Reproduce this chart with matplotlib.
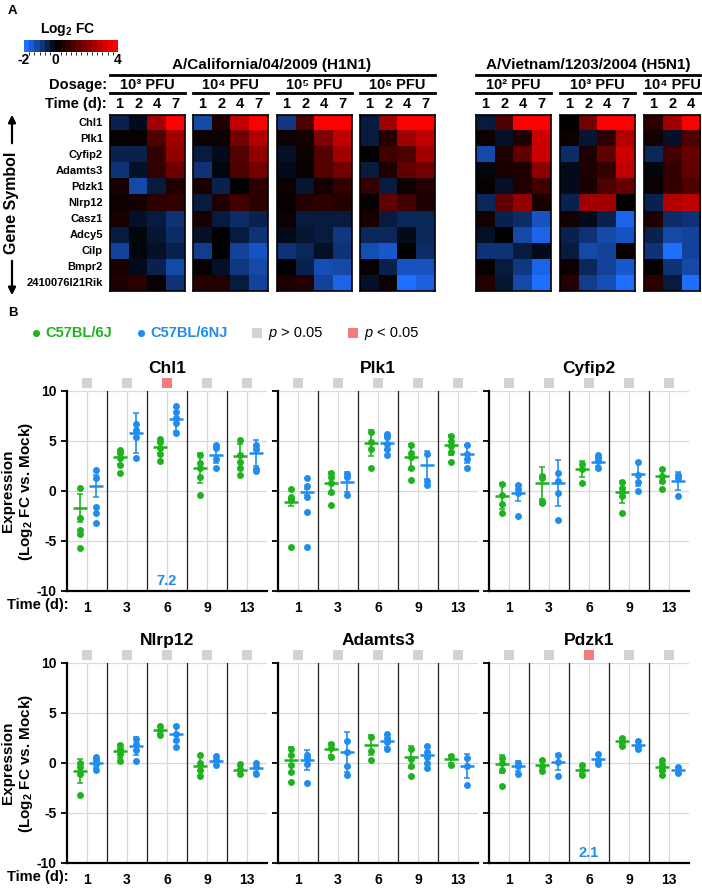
import numpy as np
import matplotlib
matplotlib.use('Agg')
import matplotlib.pyplot as plt
from matplotlib.colors import LinearSegmentedColormap, BoundaryNorm
from matplotlib.cm import ScalarMappable

plt.rcParams['font.family'] = ['Liberation Sans', 'DejaVu Sans']
plt.rcParams['font.weight'] = 'bold'
plt.rcParams['axes.unicode_minus'] = False
plt.rcParams['mathtext.fontset'] = 'custom'
plt.rcParams['mathtext.rm'] = 'Liberation Sans:bold'
plt.rcParams['mathtext.it'] = 'Liberation Sans:italic:bold'
plt.rcParams['mathtext.bf'] = 'Liberation Sans:bold'

# ---- panel A data (log2 FC heatmaps) ----
genes = ['Chl1', 'Plk1', 'Cyfip2', 'Adamts3', 'Pdzk1', 'Nlrp12',
         'Casz1', 'Adcy5', 'Cilp', 'Bmpr2', '2410076I21Rik']

cal_1e3 = [[-0.6, -0.2, 2.5, 4.0], [0.1, 0.1, 1.2, 2.5], [-0.6, -0.6, 0.8, 2.3],
           [-0.9, -0.3, 0.8, 1.7], [0.4, -1.3, -0.5, 0.5], [0.2, 0.3, 0.7, 0.8],
           [0.4, -0.3, -0.5, -0.9], [-0.5, -0.1, -0.4, -0.8], [-1.2, -0.1, -0.3, -0.6],
           [0.4, -0.2, -0.6, -1.3], [0.5, 0.7, 0.1, -0.9]]
cal_1e4 = [[-1.3, 0.5, 3.0, 4.0], [0.2, 0.2, 1.8, 2.8], [-0.5, -0.2, 1.3, 2.3],
           [-0.9, -0.1, 1.2, 1.8], [0.4, -0.6, 0.0, 0.7], [-0.5, 0.5, 1.0, 0.7],
           [0.4, -0.5, -0.8, -0.6], [-0.3, 0.0, -0.5, -0.9], [-1.1, 0.0, -1.2, -1.5],
           [0.1, -0.3, -1.0, -1.3], [0.6, 0.6, -0.5, -1.2]]
cal_1e5 = [[-1.0, 1.2, 4.0, 4.0], [0.2, 0.3, 2.0, 3.0], [-0.3, 0.2, 1.3, 2.5],
           [-0.2, 0.1, 1.3, 1.8], [0.2, -0.4, 0.3, 0.8], [0.1, 0.6, 0.7, 0.6],
           [0.2, -0.5, -0.5, -0.5], [-0.2, -0.4, -0.5, -1.0], [-0.9, -0.7, -0.3, -0.9],
           [0.0, -0.6, -1.4, -1.3], [0.5, 0.6, -1.2, -1.8]]
cal_1e6 = [[-0.5, 2.5, 4.0, 4.0], [-0.5, 0.6, 2.5, 3.0], [0.0, 1.0, 1.2, 2.5],
           [-0.5, 0.5, 1.5, 1.8], [0.8, -0.5, 0.2, 0.6], [0.1, 1.5, 1.0, 0.5],
           [0.4, -0.5, -0.7, -0.7], [-0.7, -0.7, -0.2, -0.7], [-1.4, -1.6, 0.0, -0.8],
           [0.1, -0.6, -1.5, -1.5], [-0.3, 0.2, -2.0, -1.7]]
vn_1e2 = [[-0.5, 1.2, 4.0, 4.0], [0.2, -0.3, 0.5, 3.2], [-1.3, 0.5, 1.5, 3.2],
          [-0.1, 0.4, 0.5, 2.2], [0.1, -0.3, 0.5, 1.0], [-0.7, 1.5, 2.3, 0.4],
          [0.3, -0.6, -0.8, -1.5], [-0.3, 0.0, -1.3, -1.8], [-0.9, -0.9, -0.5, -0.2],
          [0.1, -0.5, -1.0, -1.8], [0.6, -0.4, -1.3, -2.0]]
vn_1e3 = [[0.0, 1.8, 4.0, 4.0], [0.2, -0.4, 0.7, 2.8], [-0.8, 0.5, 1.5, 3.2],
          [-0.2, 0.5, 0.8, 3.0], [-0.2, 0.4, 1.2, 1.6], [-0.6, 2.5, 2.5, 0.0],
          [0.3, -0.2, -0.6, -1.8], [-0.6, -0.9, -1.3, -1.5], [-0.5, -1.3, -1.2, 0.1],
          [0.2, -0.7, -1.2, -1.6], [0.6, -1.1, -1.4, -2.0]]
vn_1e4 = [[0.7, 2.5, 4.0], [0.3, -0.3, 1.2], [-0.7, 1.0, 1.6],
          [-0.1, 0.8, 1.5], [0.2, 0.8, 1.2], [-0.6, 2.8, 3.0],
          [0.5, -0.8, -0.9], [-0.6, -1.3, -1.2], [-0.9, -2.0, -1.2],
          [0.1, -0.9, -1.3], [0.7, -0.5, -2.0]]

cal_doses = ['10³ PFU', '10⁴ PFU', '10⁵ PFU', '10⁶ PFU']
vn_doses = ['10² PFU', '10³ PFU', '10⁴ PFU']
hm_times = ['1', '2', '4', '7']

# ---- panel B data (qPCR, log2 FC vs mock) ----
days = ['1', '3', '6', '9', '13']

chl1_j = [[0.3, -2.7, -3.9, -4.3, -5.7], [4.1, 3.8, 3.3, 2.6, 1.8], [5.2, 4.9, 4.3, 3.7, 3.0],
          [3.6, 2.8, 2.3, 1.4, -0.4], [5.1, 3.6, 2.9, 2.3, 1.6]]
chl1_nj = [[2.1, 1.3, -1.6, -2.2, -3.2], [6.7, 6.1, 5.4, 3.3], [8.5, 7.9, 7.3, 6.8, 5.8],
           [4.6, 4.3, 3.2, 2.3], [4.6, 4.2, 2.2, 2.0]]
chl1_j_mean = [-1.7, 3.4, 4.4, 2.3, 3.5]
chl1_j_sd = [1.4, 0.7, 0.6, 1.5, 1.2]
chl1_nj_mean = [0.5, 5.8, 7.2, 3.6, 3.8]
chl1_nj_sd = [1.1, 2.0, 1.2, 0.8, 1.3]

plk1_j = [[0.2, -0.6, -0.8, -0.9, -5.6], [1.8, 1.4, 0.8, -0.1, -1.4], [5.9, 4.9, 4.2, 2.3],
          [4.6, 3.8, 3.4, 2.3, 1.1], [5.5, 5.0, 4.5, 3.9, 2.9]]
plk1_nj = [[1.3, 0.5, -0.6, -2.1, -5.6], [1.7, 1.4, -0.4], [5.7, 5.4, 4.7, 4.2, 3.6],
           [3.7, 1.0, 0.6], [4.6, 3.7, 3.2, 2.3]]
plk1_j_mean = [-1.1, 0.8, 4.8, 3.4, 4.6]
plk1_j_sd = [0.4, 1.1, 1.3, 1.3, 1.0]
plk1_nj_mean = [-0.1, 0.9, 4.8, 2.6, 3.7]
plk1_nj_sd = [0.3, 1.0, 0.7, 1.4, 0.9]

cyfip2_j = [[0.7, -0.4, -1.3, -2.2], [1.5, 1.3, -1.0, -1.2], [2.7, 2.2, 0.8],
            [0.9, 0.3, -0.1, -0.5, -2.2], [2.2, 1.5, 1.0, 0.2]]
cyfip2_nj = [[0.6, 0.2, -0.2, -2.5], [1.8, 1.0, -0.2, -2.9], [3.6, 3.3, 3.0, 2.3],
             [2.9, 1.6, 0.9, 0.0], [1.6, 1.3, -0.5]]
cyfip2_j_mean = [-0.5, 0.8, 2.2, -0.1, 1.5]
cyfip2_j_sd = [1.3, 1.6, 0.8, 1.1, 0.7]
cyfip2_nj_mean = [-0.2, 0.8, 2.9, 1.7, 1.0]
cyfip2_nj_sd = [0.8, 2.3, 0.4, 1.2, 0.9]

nlrp12_j = [[0.0, -0.4, -1.1, -3.2], [1.8, 1.4, 0.9, 0.2], [3.7, 3.3, 2.8],
            [0.8, 0.0, -0.7, -1.3], [-0.1, -0.6, -1.1]]
nlrp12_nj = [[0.6, 0.3, -0.1, -0.7], [2.4, 1.9, 1.3, 0.2], [3.7, 2.9, 2.3, 1.6],
             [0.7, 0.3, -0.2], [0.0, -0.4, -1.1]]
nlrp12_j_mean = [-0.8, 1.2, 3.3, -0.3, -0.7]
nlrp12_j_sd = [1.2, 0.7, 0.4, 1.0, 0.4]
nlrp12_nj_mean = [0.0, 1.7, 2.9, 0.2, -0.5]
nlrp12_nj_sd = [0.5, 0.9, 0.8, 0.4, 0.4]

adamts3_j = [[1.4, 0.8, -0.2, -0.9, -1.9], [1.9, 1.5, 0.6], [2.6, 1.2, 0.3],
             [1.4, 0.4, -0.3, -1.3], [0.7, -0.2]]
adamts3_nj = [[0.8, 0.5, -0.1, -2.0], [2.2, 1.1, -0.3, -1.2], [2.9, 2.5, 2.1, 1.4],
              [1.7, 1.1, 0.6, 0.0, -0.5], [0.5, -0.3, -2.2]]
adamts3_j_mean = [0.3, 1.4, 1.8, 0.6, 0.4]
adamts3_j_sd = [1.3, 0.6, 1.0, 1.1, 0.4]
adamts3_nj_mean = [0.3, 1.1, 2.2, 0.8, -0.3]
adamts3_nj_sd = [1.0, 2.0, 0.6, 0.9, 1.2]

pdzk1_j = [[0.5, 0.0, -0.7, -2.3], [0.3, -0.3, -0.8], [-0.2, -0.7, -1.2],
           [2.5, 2.1, 1.7], [0.3, -0.2, -0.7, -1.2]]
pdzk1_nj = [[0.0, -0.3, -1.1], [0.8, 0.1, -1.3], [0.9, 0.3, -0.1],
            [2.2, 1.7, 1.4], [-0.4, -1.0]]
pdzk1_j_mean = [-0.1, -0.2, -0.7, 2.2, -0.4]
pdzk1_j_sd = [0.9, 0.5, 0.4, 0.3, 0.5]
pdzk1_nj_mean = [-0.3, 0.1, 0.4, 1.8, -0.7]
pdzk1_nj_sd = [0.5, 0.8, 0.4, 0.3, 0.3]

chl1_sig = [0, 0, 1, 0, 0]
pdzk1_sig = [0, 0, 1, 0, 0]
no_sig = [0, 0, 0, 0, 0]

GREEN = '#1db31d'
BLUE = '#1e8cf0'
GRID = '#d9d9d9'

W, H = 702, 889
fig = plt.figure(figsize=(W / 100, H / 100), dpi=100)


def box(x0, y0, x1, y1):
    # axes from pixel box (top-left origin)
    return fig.add_axes([x0 / W, 1 - y1 / H, (x1 - x0) / W, (y1 - y0) / H])


ov = box(0, 0, W, H)
ov.set_xlim(0, W)
ov.set_ylim(H, 0)
ov.axis('off')
ov.set_zorder(10)
ov.patch.set_visible(False)

# ================= panel A =================
cmap = LinearSegmentedColormap.from_list('fc', [(0, '#1f6fff'), (1 / 3, '#000000'), (1, '#ff0000')])
cell_w = 18.75
hm_top, hm_bot = 115, 291

cal_blocks = [cal_1e3, cal_1e4, cal_1e5, cal_1e6]
cal_x = [110, 193, 277, 360]
vn_blocks = [vn_1e2, vn_1e3, vn_1e4]
vn_x = [476, 560, 644]

for blocks, xs, doses in [(cal_blocks, cal_x, cal_doses), (vn_blocks, vn_x, vn_doses)]:
    for data, x0, dose in zip(blocks, xs, doses):
        arr = np.array(data)
        ncol = arr.shape[1]
        x1 = x0 + cell_w * ncol
        ax = box(x0, hm_top, x1, hm_bot)
        ax.imshow(arr, cmap=cmap, vmin=-2, vmax=4, aspect='auto', interpolation='nearest')
        ax.set_xticks([])
        ax.set_yticks([])
        for s in ax.spines.values():
            s.set_linewidth(1.2)
        ov.text((x0 + x1) / 2, 85, dose, ha='center', va='center', fontsize=10.5)
        ov.plot([x0, x1], [93, 93], color='k', lw=2)
        for j in range(ncol):
            ov.text(x0 + cell_w * (j + 0.5), 104, hm_times[j], ha='center', va='center', fontsize=10.5)

ov.text(272, 65, 'A/California/04/2009 (H1N1)', ha='center', va='center', fontsize=11)
ov.plot([110, 435], [75, 75], color='k', lw=2)
ov.text(588, 65, 'A/Vietnam/1203/2004 (H5N1)', ha='center', va='center', fontsize=11)
ov.plot([476, 700], [75, 75], color='k', lw=2)
ov.text(107, 85, 'Dosage:', ha='right', va='center', fontsize=10.5)
ov.text(107, 104, 'Time (d):', ha='right', va='center', fontsize=10.5)

row_h = (hm_bot - hm_top) / len(genes)
for i, g in enumerate(genes):
    ov.text(103, hm_top + row_h * (i + 0.5), g, ha='right', va='center', fontsize=8)

ov.text(12, 203, 'Gene Symbol', rotation=90, ha='center', va='center', fontsize=11.5)
ov.annotate('', xy=(12, 112), xytext=(12, 146),
            arrowprops=dict(arrowstyle='-|>', color='k', lw=1.6, mutation_scale=11))
ov.annotate('', xy=(12, 298), xytext=(12, 258),
            arrowprops=dict(arrowstyle='-|>', color='k', lw=1.6, mutation_scale=11))

# colour key
cax = box(24, 40, 118, 52)
bounds = np.linspace(-2, 4, 19)
norm = BoundaryNorm(bounds, cmap.N)
cb = fig.colorbar(ScalarMappable(norm=norm, cmap=cmap), cax=cax, orientation='horizontal',
                  ticks=[-2, 0, 4])
cb.outline.set_visible(False)
cb.ax.tick_params(length=0, pad=1, labelsize=10)
cb.ax.set_xticklabels(['-2', '0', '4'], fontweight='bold')
ov.text(68, 29, 'Log$_2$ FC', ha='center', va='center', fontsize=10)

ov.text(8, 11, 'A', ha='left', va='center', fontsize=9.5)
ov.text(8, 313, 'B', ha='left', va='center', fontsize=9.5)

# ================= panel B =================
ov.scatter([36], [333], s=26, color=GREEN, linewidths=0)
ov.text(45, 333, 'C57BL/6J', color=GREEN, ha='left', va='center', fontsize=10.5)
ov.scatter([141], [333], s=26, color=BLUE, linewidths=0)
ov.text(150, 333, 'C57BL/6NJ', color=BLUE, ha='left', va='center', fontsize=10.5)
ov.scatter([257], [333], s=55, marker='s', color='#d3d3d3', linewidths=0)
ov.text(268, 333, 'p', style='italic', fontweight='normal', ha='left', va='center', fontsize=10.5)
ov.text(281, 333, '> 0.05', fontweight='normal', ha='left', va='center', fontsize=10.5)
ov.scatter([353], [333], s=55, marker='s', color='#f47c7c', linewidths=0)
ov.text(364, 333, 'p', style='italic', fontweight='normal', ha='left', va='center', fontsize=10.5)
ov.text(377, 333, '< 0.05', fontweight='normal', ha='left', va='center', fontsize=10.5)

panels = [
    ('Chl1', chl1_j, chl1_nj, chl1_j_mean, chl1_j_sd, chl1_nj_mean, chl1_nj_sd, chl1_sig, '7.2'),
    ('Plk1', plk1_j, plk1_nj, plk1_j_mean, plk1_j_sd, plk1_nj_mean, plk1_nj_sd, no_sig, None),
    ('Cyfip2', cyfip2_j, cyfip2_nj, cyfip2_j_mean, cyfip2_j_sd, cyfip2_nj_mean, cyfip2_nj_sd, no_sig, None),
    ('Nlrp12', nlrp12_j, nlrp12_nj, nlrp12_j_mean, nlrp12_j_sd, nlrp12_nj_mean, nlrp12_nj_sd, no_sig, None),
    ('Adamts3', adamts3_j, adamts3_nj, adamts3_j_mean, adamts3_j_sd, adamts3_nj_mean, adamts3_nj_sd, no_sig, None),
    ('Pdzk1', pdzk1_j, pdzk1_nj, pdzk1_j_mean, pdzk1_j_sd, pdzk1_nj_mean, pdzk1_nj_sd, pdzk1_sig, '2.1'),
]
col_x = [67, 278, 489]
row_y = [(391, 591), (663, 863)]

for k, (name, jp, njp, jm, jsd, njm, njsd, sig, note) in enumerate(panels):
    r, c = divmod(k, 3)
    y0, y1 = row_y[r]
    ax = box(col_x[c], y0, col_x[c] + 200, y1)
    ax.set_xlim(0, 5)
    ax.set_ylim(-10, 10)
    for yv in [-5, 0, 5, 10]:
        ax.axhline(yv, color=GRID, lw=0.9, zorder=0)
    for i in range(5):
        ax.axvline(i + 0.5, color=GRID, lw=0.9, zorder=0)
    for i in range(1, 5):
        ax.axvline(i, color='#222222', lw=0.9, zorder=1)
    for i in range(5):
        for pts, m, sd, dx, col in [(jp[i], jm[i], jsd[i], 0.33, GREEN),
                                    (njp[i], njm[i], njsd[i], 0.73, BLUE)]:
            ax.scatter([i + dx] * len(pts), pts, s=25, color=col, linewidths=0, zorder=3)
            ax.errorbar(i + dx, m, yerr=sd, fmt='none', ecolor=col, elinewidth=1.2,
                        capsize=2.5, capthick=1.1, zorder=4)
            ax.hlines(m, i + dx - 0.17, i + dx + 0.17, color=col, lw=1.8, zorder=4)
    sq_col = ['#f47c7c' if s else '#d3d3d3' for s in sig]
    ax.scatter(np.arange(5) + 0.5, [10.8] * 5, marker='s', s=42, c=sq_col,
               linewidths=0, clip_on=False)
    if note:
        ax.text(2.5, -9.0, note, color=BLUE, ha='center', va='center', fontsize=10.5)
    ax.set_title(name, fontsize=12.5, fontweight='bold', pad=13)
    for s in ['top', 'right']:
        ax.spines[s].set_visible(False)
    ax.spines['left'].set_linewidth(1.6)
    ax.spines['bottom'].set_linewidth(1.6)
    ax.set_yticks([-10, -5, 0, 5, 10])
    ax.tick_params(axis='y', direction='out', length=4, width=1.3, labelsize=10,
                   labelleft=(c == 0))
    ax.set_xticks(np.arange(5) + 0.5)
    ax.set_xticklabels(days, fontweight='bold')
    ax.tick_params(axis='x', length=0, pad=7, labelsize=10)
    for lab in ax.get_yticklabels():
        lab.set_fontweight('bold')
    if c == 0:
        ov.text(69, y1 + 14, 'Time (d):', ha='right', va='center', fontsize=10.5)
        ov.text(18, (y0 + y1) / 2, 'Expression\n(Log$_2$ FC vs. Mock)', rotation=90,
                ha='center', va='center', fontsize=11, linespacing=1.1)

fig.savefig('out.png', dpi=100)
